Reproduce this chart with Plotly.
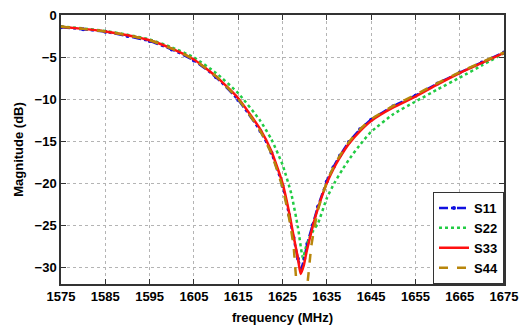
import plotly.graph_objects as go

# S11 (blue)
f_s11 = [1575, 1580, 1585, 1590, 1595, 1600, 1605, 1610, 1615, 1620, 1622.5, 1625, 1626.5, 1627.5,
         1628.5, 1629.2, 1629.9, 1630.6, 1631.8, 1633, 1635, 1636.5, 1638, 1640, 1642.5, 1645, 1650,
         1655, 1660, 1665, 1670, 1675]
s11 = [-1.45, -1.7, -2.0, -2.5, -3.1, -4.1, -5.4, -7.4, -10.1, -13.8, -16.4, -20.3, -23.8, -26.5,
       -29.0, -30.2, -29.0, -27.2, -25.0, -22.8, -19.8, -18.1, -16.7, -15.1, -13.6, -12.45, -10.85,
       -9.6, -8.15, -6.85, -5.65, -4.45]

# S22 (green)
f_s22 = [1575, 1580, 1585, 1590, 1595, 1600, 1605, 1610, 1615, 1620, 1622.5, 1625, 1627, 1628.5,
         1629.6, 1630.3, 1631, 1632, 1633, 1635, 1636.7, 1638.5, 1640, 1643, 1645, 1650, 1655, 1660,
         1665, 1670, 1675]
s22 = [-1.35, -1.6, -1.9, -2.35, -2.9, -3.85, -5.05, -6.9, -9.3, -12.6, -14.8, -17.8, -21.3, -25.3,
       -28.9, -27.6, -26.6, -25.6, -24.8, -21.8, -20.0, -18.4, -17.2, -15.1, -13.9, -11.8, -10.3, -8.85,
       -7.45, -6.0, -4.55]

# S33 (red)
f_s33 = [1575, 1580, 1585, 1590, 1595, 1600, 1605, 1610, 1615, 1620, 1622.5, 1625, 1626.5, 1627.5,
         1628.5, 1629.1, 1629.8, 1630.5, 1631.9, 1633, 1635, 1636.5, 1638, 1640, 1642.5, 1645, 1650,
         1655, 1660, 1665, 1670, 1675]
s33 = [-1.4, -1.65, -1.95, -2.4, -3.0, -4.0, -5.3, -7.3, -9.9, -13.6, -16.2, -20.0, -23.5, -26.3,
       -29.0, -30.8, -29.8, -28.0, -25.0, -23.0, -20.0, -18.3, -16.9, -15.3, -13.8, -12.6, -11.0,
       -9.7, -8.25, -6.9, -5.7, -4.5]

# S44 (gold)
f_s44 = [1575, 1580, 1585, 1590, 1595, 1600, 1605, 1610, 1615, 1620, 1622.5, 1625, 1626.5, 1627.5,
         1628.2, 1629.3, 1630.6, 1631.5, 1632.2, 1633, 1635, 1636.5, 1638, 1640, 1642.5, 1645, 1650,
         1655, 1660, 1665, 1670, 1675]
s44 = [-1.4, -1.65, -1.95, -2.4, -3.0, -4.0, -5.3, -7.3, -10.0, -13.8, -16.5, -20.5, -24.2, -27.5,
       -32.0, -35.0, -32.0, -27.5, -25.3, -23.2, -19.9, -18.1, -16.7, -15.1, -13.6, -12.4, -10.8,
       -9.5, -8.1, -6.8, -5.6, -4.45]

x_ticks = [1575, 1585, 1595, 1605, 1615, 1625, 1635, 1645, 1655, 1665, 1675]
y_ticks = [0, -5, -10, -15, -20, -25, -30]

FONT = "Liberation Sans, Arial, sans-serif"

fig = go.Figure()
fig.add_trace(go.Scatter(x=f_s11, y=s11, name="S11", mode="lines+markers",
                         line=dict(color="#1010e0", width=2.5, dash="dashdot", shape="spline", smoothing=0.5),
                         marker=dict(size=4, color="#1010e0")))
fig.add_trace(go.Scatter(x=f_s22, y=s22, name="S22", mode="lines",
                         line=dict(color="#22cc44", width=2.5, dash="dot", shape="spline", smoothing=0.5)))
fig.add_trace(go.Scatter(x=f_s33, y=s33, name="S33", mode="lines",
                         line=dict(color="#ff1010", width=2.5, shape="spline", smoothing=0.5)))
fig.add_trace(go.Scatter(x=f_s44, y=s44, name="S44", mode="lines",
                         line=dict(color="#b8860b", width=2.5, dash="dash", shape="spline", smoothing=0.5)))

axis_common = dict(showline=True, linecolor="#333333", linewidth=1.5, mirror="allticks",
                   ticks="inside", ticklen=5, tickcolor="#333333",
                   showgrid=True, gridcolor="#b4b4b4", griddash="dot", gridwidth=1,
                   zeroline=False, automargin=False,
                   tickfont=dict(family=FONT, size=13, color="black", weight="bold"))

fig.update_xaxes(range=[1575, 1675], tickvals=x_ticks,
                 title=dict(text="frequency (MHz)", standoff=10,
                            font=dict(family=FONT, size=13, color="black", weight="bold")),
                 **axis_common)
fig.update_yaxes(range=[-32, 0], tickvals=y_ticks,
                 title=dict(text="Magnitude (dB)", standoff=8,
                            font=dict(family=FONT, size=13, color="black", weight="bold")),
                 **axis_common)

fig.update_layout(
    width=521, height=329,
    margin=dict(l=61, r=17, t=15, b=45),
    plot_bgcolor="white", paper_bgcolor="white",
    showlegend=True,
    legend=dict(x=1, y=0, xanchor="right", yanchor="bottom",
                bgcolor="white", bordercolor="#333333", borderwidth=1,
                font=dict(family=FONT, size=13, color="black", weight="bold"),
                tracegroupgap=0, itemwidth=30),
)

fig.write_html("out.html", config={"displayModeBar": False},
               post_script="document.body.style.margin='0';document.body.style.overflow='hidden';")
